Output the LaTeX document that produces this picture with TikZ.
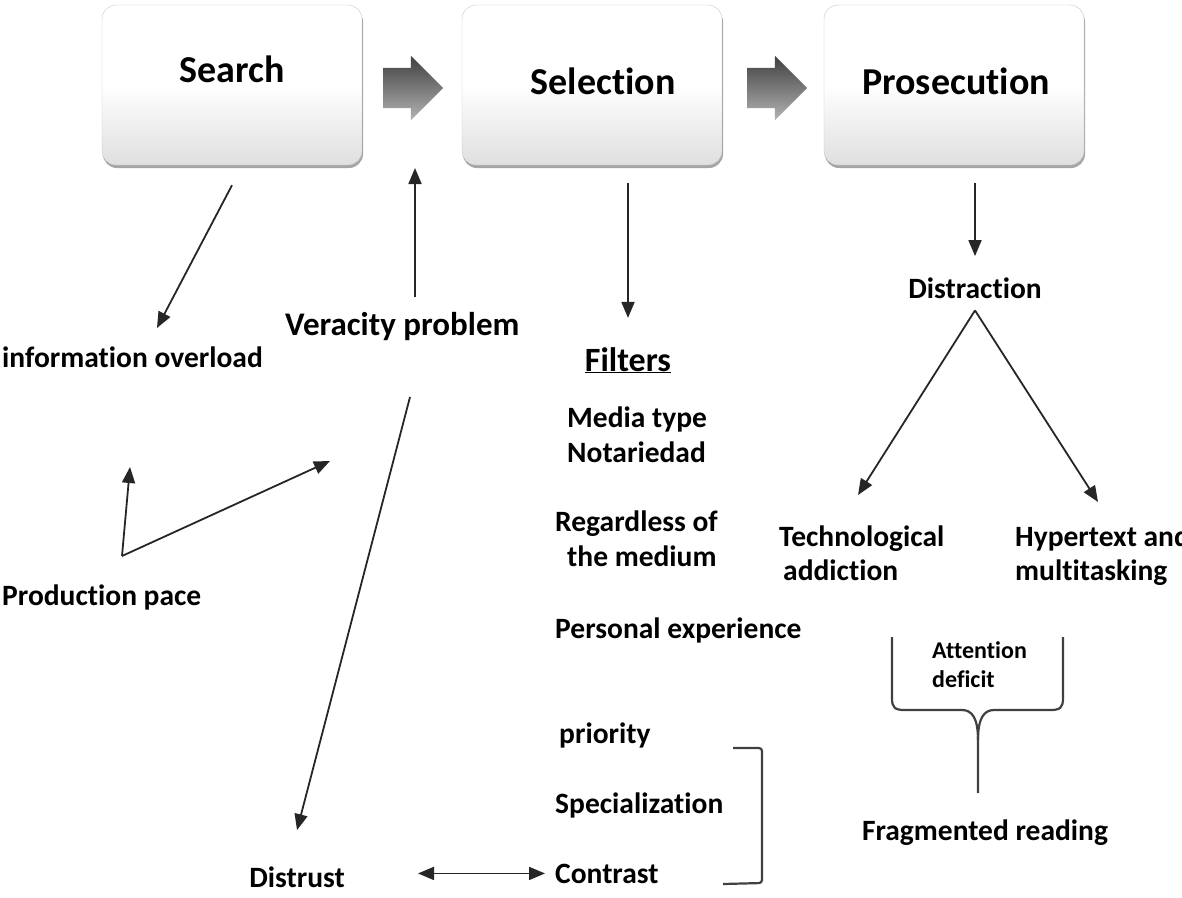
\documentclass[tikz,border=0pt]{standalone}
\usepackage{fontspec}
\setmainfont{Carlito}[Ligatures=NoCommon]
\usetikzlibrary{arrows.meta,shapes.arrows,shadows}

\tikzset{
  stagebox/.style={draw=gray!45, rounded corners=14pt, minimum width=260pt, minimum height=160pt,
    top color=white, bottom color=gray!25, middle color=white,
    drop shadow={shadow xshift=1pt, shadow yshift=-3pt, opacity=.5, fill=black!70},
    font=\fontsize{38}{44}\selectfont\bfseries, text height=26pt, text depth=8pt},
  stagearrow/.style={single arrow, draw=none, minimum height=60pt, inner xsep=0pt, inner ysep=20pt,
    single arrow head extend=12pt, top color=black!75, bottom color=black!30},
  lbl/.style={font=\fontsize{29.5}{35}\selectfont\bfseries, inner sep=0pt, anchor=base west},
  conn/.style={draw=black!85, line width=1.8pt, -{Triangle[length=16pt,width=13pt]}},
  curly/.style={draw=black!75, line width=2.2pt}
}

\begin{document}
\begin{tikzpicture}[x=1pt,y=-1pt]
\useasboundingbox (0,0) rectangle (1182,897);

% the three stages
\node[stagebox, text depth=32pt] (search) at (232,85) {Search};
\node[stagebox] (select) at (592,85) {\hspace*{22pt}Selection};
\node[stagebox] (prosec) at (954,85) {\hspace*{4pt}Prosecution};
\node[stagearrow] (arr1) at (403,88) {};
\node[stagearrow] (arr2) at (767,88) {};

% search branch
\node[lbl] (overload) at (2,367) {information overload};
\node[lbl, font=\fontsize{33}{38}\selectfont\bfseries] (veracity) at (285,335) {Veracity problem};
\node[lbl] (prod) at (2,605) {Production pace};
\node[lbl, anchor=base] (distrust) at (297,887) {Distrust};

\coordinate (ovtip) at (157,328);
\coordinate (vertip) at (415,168);
\coordinate (vertail) at (415,297);
\coordinate (papex) at (122,556);
\coordinate (ptipA) at (130,467);
\coordinate (ptipB) at (330,461);
\coordinate (longtail) at (410,397);

\draw[conn] ([yshift=-20pt]search.south) -- (ovtip);
\draw[conn] (vertail) -- (vertip);
\draw[conn] (papex) -- (ptipA);
\draw[conn] (papex) -- (ptipB);
\draw[conn] (longtail) -- ([yshift=36pt]distrust.north);

% selection branch
\node[lbl, anchor=base, font=\fontsize{34}{40}\selectfont\bfseries] (filters) at (628,371) {\underline{Filters}};
\node[lbl] (media) at (567,427) {Media type};
\node[lbl] (notar) at (567,462) {Notariedad};
\node[lbl] (regard) at (555,531) {Regardless of};
\node[lbl] (medium) at (567,566) {the medium};
\node[lbl] (personal) at (555,638) {Personal experience};
\node[lbl] (priority) at (559,743) {priority};
\node[lbl] (special) at (555,813) {Specialization};
\node[lbl] (contrast) at (555,883) {Contrast};

\draw[conn] ([yshift=-18pt]select.south -| filters) -- ([yshift=29pt]filters.north);
\draw[conn, {Triangle[length=16pt,width=13pt]}-{Triangle[length=16pt,width=13pt]}]
  ([xshift=-137pt]contrast.west) -- ([xshift=-10pt]contrast.west);
\draw[curly, rounded corners=3pt] (733,748) -- (762,748) -- (762,883) -- (723,884);

% prosecution branch
\node[lbl, anchor=base] (distract) at (975,298) {Distraction};
\node[lbl] (tecA) at (779,546) {Technological};
\node[lbl] (tecB) at (783,580) {addiction};
\node[lbl] (hypA) at (1015,546) {Hypertext and};
\node[lbl] (hypB) at (1015,580) {multitasking};
\node[lbl, font=\fontsize{24}{29}\selectfont\bfseries] (attA) at (932,658) {Attention};
\node[lbl, font=\fontsize{24}{29}\selectfont\bfseries] (attB) at (932,687) {deficit};
\node[lbl, anchor=base] (frag) at (985,840) {Fragmented reading};

\draw[conn] ([yshift=-18pt]prosec.south -| distract.north) -- ([yshift=21pt]distract.north);
\draw[conn] ([yshift=-12pt]distract.south) -- (858,495);
\draw[conn] ([yshift=-12pt]distract.south) -- (1098,502);

\draw[curly] (892,637) -- (892,698) .. controls (892,708) and (895,710) .. (905,710) -- (962,710)
  .. controls (972,710) and (978,718) .. (978,740) -- (978,793);
\draw[curly] (1063,637) -- (1063,698) .. controls (1063,708) and (1060,710) .. (1050,710) -- (994,710)
  .. controls (984,710) and (978,718) .. (978,740);
\end{tikzpicture}
\end{document}
